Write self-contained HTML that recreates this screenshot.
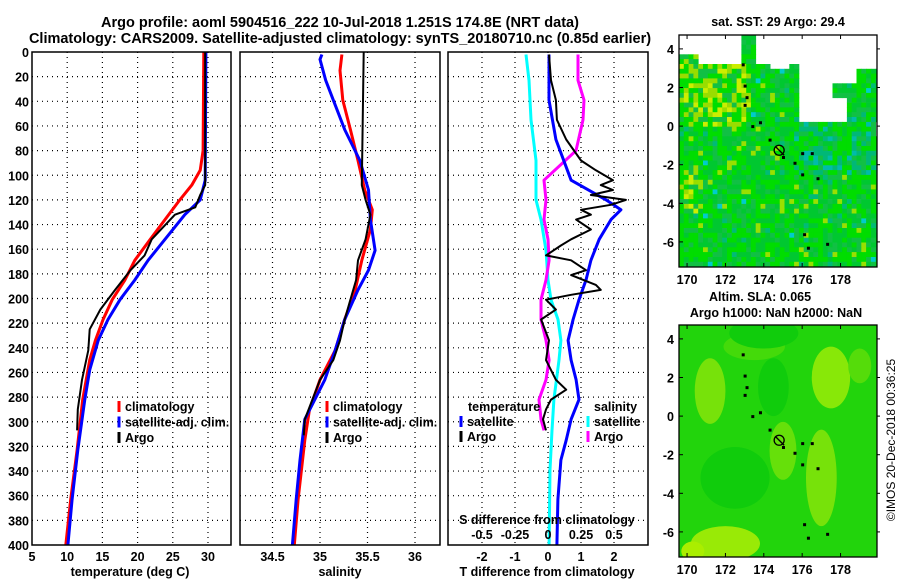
<!DOCTYPE html>
<html><head><meta charset="utf-8"><style>
body{margin:0;background:#fff;}
svg{display:block;font-family:"Liberation Sans",sans-serif;font-weight:bold;}
</style></head><body>
<svg id="s" width="900" height="580" viewBox="0 0 900 580" xmlns="http://www.w3.org/2000/svg">
<text x="340" y="27" font-size="14.5" text-anchor="middle">Argo profile: aoml 5904516_222 10-Jul-2018 1.251S 174.8E (NRT data)</text>
<text x="340" y="43" font-size="14.5" text-anchor="middle">Climatology: CARS2009. Satellite-adjusted climatology: synTS_20180710.nc (0.85d earlier)</text>
<g id="g"></g>
<text x="895" y="440" font-size="12" font-weight="normal" transform="rotate(-90 895 440)" text-anchor="middle">©IMOS 20-Dec-2018 00:36:25</text>
</svg>
<script>
// ---------- data ----------
const depthTicks=[0,20,40,60,80,100,120,140,160,180,200,220,240,260,280,300,320,340,360,380,400];
const tempTicks=[5,10,15,20,25,30];
const salTicks=[34.5,35,35.5,36];
const salTickLabels=["34.5","35","35.5","36"];
const tdiffTicks=[-2,-1,0,1,2];
const sdiffTicks=[-0.5,-0.25,0,0.25,0.5];
const sdiffTickLabels=["-0.5","-0.25","0","0.25","0.5"];
const lonTicks=[170,172,174,176,178];
const latTicks=[4,2,0,-2,-4,-6];

const argoTDepth=[0,100,108,116,126,132,152,165,177,193,209,225,242,266,290,307];
const argoT=[29.6,29.6,29.6,28.9,28.2,25.3,22,21,19,16.8,14.7,13.2,13,12.1,11.5,11.4];
const climTDepth=[0,80,96,108,120,136,152,169,185,201,217,234,250,282,323,363,400];
const climT=[29.4,29.3,28.9,27.7,26,23.9,21.8,19.6,18.2,16.4,15.1,14,13.2,12.2,11.4,10.5,9.8];
const satTDepth=[0,104,120,132,152,169,185,201,217,234,258,282,323,363,400];
const satT=[29.7,29.6,28.9,26.7,23.9,21.5,19.6,17.5,15.8,14.4,13.2,12.5,11.5,10.7,10.1];

const argoSDepth=[0,108,120,132,152,169,185,201,217,234,250,266,282,298,311];
const argoS=[35.46,35.44,35.48,35.53,35.48,35.40,35.38,35.32,35.26,35.21,35.14,35.0,34.92,34.84,34.83];
const climSDepth=[2,15,39,63,88,112,128,144,169,193,217,242,266,290,315,363,400];
const climS=[35.23,35.21,35.24,35.32,35.40,35.47,35.55,35.53,35.44,35.37,35.26,35.16,35.0,34.89,34.84,34.77,34.73];
const satSDepth=[2,6,23,39,63,88,112,136,161,177,193,217,242,266,298,331,363,400];
const satS=[35.02,35.0,35.06,35.14,35.26,35.42,35.51,35.53,35.58,35.51,35.40,35.26,35.16,35.05,34.84,34.79,34.75,34.71];

const argoTdDepth=[2,23,39,55,71,88,96,104,108,112,116,120,124,128,132,136,144,152,157,165,169,177,181,189,193,197,201,209,217,234,250,266,274,282,290,298,307];
const argoTd=[0.03,0.09,0.24,0.27,0.55,1.0,1.45,1.97,1.6,1.97,1.3,2.36,1.91,1.0,1.3,0.85,1.3,0.7,0.39,-0.06,0.7,1.15,0.7,1.45,1.6,0.7,-0.06,0.24,-0.21,0.03,-0.06,0.24,0.55,0.09,-0.06,-0.15,-0.06];
const satTdDepth=[2,39,71,104,120,128,136,152,169,185,201,217,234,250,266,282,298,315,331,363,400];
const satTd=[0.03,0.03,0.24,0.70,1.76,2.21,1.91,1.55,1.30,1.15,0.94,0.76,0.61,0.70,0.85,0.94,0.70,0.55,0.39,0.30,0.27];
const satSdDepth=[2,23,55,88,120,136,161,185,201,217,234,250,282,307,339,400];
const satSd=[-0.167,-0.144,-0.129,-0.091,-0.091,-0.053,-0.015,0,0.023,0.076,0.098,0.083,0.045,0.03,0.015,0.008];
const argoSdDepth=[2,23,39,55,80,104,120,136,152,169,185,201,217,234,250,266,282,298,307];
const argoSd=[0.227,0.227,0.273,0.265,0.212,-0.03,-0.015,-0.03,0,0.008,-0.015,-0.053,-0.053,-0.015,0.008,-0.015,-0.068,-0.053,-0.03];

const floatLon=174.8, floatLat=-1.251;
const trackLon=[172.9,173.0,173.1,173.0,173.4,173.8,174.3,175.0,176.0,176.5,175.6,176.0,176.8,176.1,176.3,177.3];
const trackLat=[3.2,2.1,1.5,1.1,0.0,0.2,-0.7,-1.6,-1.4,-1.4,-1.9,-2.5,-2.7,-5.6,-6.3,-6.1];

// ---------- helpers ----------
const NS="http://www.w3.org/2000/svg";
const G=document.getElementById('g');
function mk(tag,attrs,parent){const e=document.createElementNS(NS,tag);for(const k in attrs)e.setAttribute(k,attrs[k]);(parent||G).appendChild(e);return e;}
const yTop=52,yBot=545;
const yD=d=>yTop+(yBot-yTop)*d/400;

function panel(name,x0,x1,xmin,xmax){
  const sx=v=>x0+(x1-x0)*(v-xmin)/(xmax-xmin);
  const g=mk('g',{});
  
  
  return {sx,g,x0,x1};
}
function grid(p,xt){
  depthTicks.forEach(d=>{if(d>0&&d<400){const l=mk('line',{x1:p.x0,x2:p.x1,y1:yD(d),y2:yD(d),stroke:'#000','stroke-width':1.2,'stroke-dasharray':'1 4'},p.g);
    }});
  xt.forEach(v=>{const x=p.sx(v);if(x>p.x0+1&&x<p.x1-1){const l=mk('line',{x1:x,x2:x,y1:yTop,y2:yBot,stroke:'#000','stroke-width':1.2,'stroke-dasharray':'1 4'},p.g);
    }});
}
function frame(p){const r=mk('rect',{x:p.x0,y:yTop,width:p.x1-p.x0,height:yBot-yTop,fill:'none',stroke:'#000','stroke-width':1.5},p.g);
  }
function series(p,depths,vals,color,w,name,f){
  const pts=depths.map((d,i)=>(f?f(vals[i]):p.sx(vals[i])).toFixed(1)+','+yD(d).toFixed(1)).join(' ');
  const l=mk('polyline',{points:pts,fill:'none',stroke:color,'stroke-width':w,'stroke-linejoin':'round'},p.g);
  
}
function txt(s,x,y,size,anchor,name,parent,color){const t=mk('text',{x,y,'font-size':size,'text-anchor':anchor||'start',fill:color||'#000'},parent);t.textContent=s;
  return t;}
function legMark(x,y,color,parent){const l=mk('line',{x1:x,x2:x,y1:y-10,y2:y+1,stroke:color,'stroke-width':3},parent);
  }

// ---------- panel 1 ----------
const p1=panel('temperature-panel',32,231,5,33.27);
grid(p1,tempTicks);
series(p1,climTDepth,climT,'#f00',3,'climatology-temp-line');
series(p1,satTDepth,satT,'#00f',3,'satellite-temp-line');
series(p1,argoTDepth,argoT,'#000',2,'argo-temp-line');
frame(p1);
depthTicks.forEach(d=>txt(String(d),29,yD(d)+5,12.5,'end','depth-tick-label',p1.g));
tempTicks.forEach(v=>txt(String(v),p1.sx(v),561,12.5,'middle','temp-tick-label',p1.g));
txt('temperature (deg C)',130,576,12.5,'middle','temp-axis-title',p1.g);
[['climatology','#f00'],['satellite-adj. clim.','#00f'],['Argo','#000']].forEach((e,i)=>{legMark(119,411+i*15.5,e[1],p1.g);txt(e[0],125,411+i*15.5,12.5,'start','legend-entry',p1.g);});

// ---------- panel 2 ----------
const p2=panel('salinity-panel',240,440,34.158,36.263);
grid(p2,salTicks);
series(p2,climSDepth,climS,'#f00',3,'climatology-sal-line');
series(p2,satSDepth,satS,'#00f',3,'satellite-sal-line');
series(p2,argoSDepth,argoS,'#000',2,'argo-sal-line');
frame(p2);
salTicks.forEach((v,i)=>txt(salTickLabels[i],p2.sx(v),561,12.5,'middle','sal-tick-label',p2.g));
txt('salinity',340,576,12.5,'middle','sal-axis-title',p2.g);
[['climatology','#f00'],['satellite-adj. clim.','#00f'],['Argo','#000']].forEach((e,i)=>{legMark(327,411+i*15.5,e[1],p2.g);txt(e[0],333,411+i*15.5,12.5,'start','legend-entry',p2.g);});

// ---------- panel 3 ----------
const p3=panel('difference-panel',448,648,-3.03,3.03);
const sS=v=>p3.sx(v*4);
grid(p3,tdiffTicks);
series(p3,satSdDepth,satSd,'#0ff',3,'satellite-sdiff-line',sS);
series(p3,argoSdDepth,argoSd,'#f0f',3,'argo-sdiff-line',sS);
series(p3,satTdDepth,satTd,'#00f',3,'satellite-tdiff-line');
series(p3,argoTdDepth,argoTd,'#000',2,'argo-tdiff-line');
frame(p3);
tdiffTicks.forEach(v=>txt(String(v),p3.sx(v),561,12.5,'middle','tdiff-tick-label',p3.g));
sdiffTicks.forEach((v,i)=>txt(sdiffTickLabels[i],sS(v),539,12.5,'middle','sdiff-tick-label',p3.g));
txt('S difference from climatology',547,524,12.5,'middle','sdiff-axis-title',p3.g);
txt('T difference from climatology',547,576,12.5,'middle','tdiff-axis-title',p3.g);
txt('temperature',468,411,12.5,'start','legend-header-temp',p3.g);
legMark(461,426,'#00f',p3.g);txt('satellite',467,426,12.5,'start','legend-entry',p3.g);
legMark(461,441,'#000',p3.g);txt('Argo',467,441,12.5,'start','legend-entry',p3.g);
txt('salinity',594,411,12.5,'start','legend-header-sal',p3.g);
legMark(588,426,'#0ff',p3.g);txt('satellite',594,426,12.5,'start','legend-entry',p3.g);
legMark(588,441,'#f0f',p3.g);txt('Argo',594,441,12.5,'start','legend-entry',p3.g);

// ---------- maps ----------
function hash(a,b,c){let h=(a*374761393+b*668265263+c*2147483647)|0;h=(h^(h>>>13))*1274126177|0;return ((h^(h>>>16))>>>0)/4294967296;}
function map(name,y0,y1,sst){
  const x0=679,x1=877,lonMin=169.58,lonMax=179.9,latMax=4.72,latMin=-7.3;
  const sx=l=>x0+(x1-x0)*(l-lonMin)/(lonMax-lonMin);
  const sy=l=>y0+(y1-y0)*(latMax-l)/(latMax-latMin);
  const g=mk('g',{});
  const cp='cp'+name;const c=mk('clipPath',{id:cp},g);mk('rect',{x:x0,y:y0,width:x1-x0,height:y1-y0},c);
  const inner=mk('g',{'clip-path':'url(#'+cp+')'},g);
  if(sst){
    const st=0.25;
    for(let lat=latMax;lat>latMin-st;lat-=st){for(let lon=lonMin;lon<lonMax;lon+=st){
      const i=Math.round(lon*4),j=Math.round(lat*4);
      let white=false;
      if(lat>3.4&&!(lon<170.5&&lat<3.9)&&!(lon>172.6&&lon<173.4)) white=true;
      if(lat>2.3&&lat<=3.4&&((lon>174.2&&lon<175.3&&lat>3.1)||(lon>175.6&&lon<178.8))) white=true;
      if(lat>0.4&&lat<=2.3&&lon>175.8&&lon<178.2&&!(lon>177.4&&lat>1.6)) white=true;
      if(lat>-0.3&&lat<0.4&&lon>179.6) white=true;
      if(lat>3.1&&lon>178.8) white=true;
      if(white) continue;
      const r=hash(i,j,7);let col;
      const yellowish=(lon<173.2&&lat>0&&lat<3.3)||(lon<170.5&&lat<-2&&lat>-4.5);
      const tealish=(lon>175.5&&lat<0.8&&lat>-2.5);
      if(yellowish&&r<0.4) col=r<0.15?'#ccee00':'#99dd00';
      else if(tealish&&r<0.3) col=r<0.1?'#00bbaa':'#00b877';
      else if(r<0.05) col='#99e000';
      else if(r<0.08) col='#00bb77';
      else if(r<0.09) col='#00cccc';
      else if(r<0.4) col='#00c830';
      else if(r<0.8) col='#00dd00';
      else col='#11c044';
      mk('rect',{x:sx(lon).toFixed(1),y:sy(lat).toFixed(1),width:5.2,height:5.2,fill:col},inner);
    }}
  } else {
    mk('rect',{x:x0,y:y0,width:x1-x0,height:y1-y0,fill:'#22d40c'},inner);
    const blobs=[[171.2,1.3,0.8,1.7,'#77e20a'],[177.5,2.0,1.0,1.6,'#88e808'],[177.0,-3.2,0.8,2.5,'#77e20a'],[175.0,-1.8,0.7,1.5,'#66e00a'],[172.0,-6.6,1.8,0.9,'#99ea06'],[179.0,2.6,0.6,0.9,'#55dc0a'],[173.5,3.6,1.6,0.7,'#44da0a'],[170.3,-7.0,0.6,0.5,'#aaee00']];
    blobs.forEach(b=>mk('ellipse',{cx:sx(b[0]),cy:sy(b[1]),rx:b[2]*19.2,ry:b[3]*19.3,fill:b[4]},inner));
    const dk=[[174.0,4.3,1.8,0.8],[172.5,-3.2,1.8,1.6],[174.5,1.5,0.8,1.5]];
    dk.forEach(b=>mk('ellipse',{cx:sx(b[0]),cy:sy(b[1]),rx:b[2]*19.2,ry:b[3]*19.3,fill:'#10cc0c'},inner));
  }
  trackLon.forEach((l,i)=>{const d=mk('rect',{x:sx(l)-1,y:sy(trackLat[i])-1,width:3,height:3,fill:'#000'},inner);
    });
  const cx=sx(floatLon),cy=sy(floatLat);
  const m=mk('circle',{cx,cy,r:5,fill:'none',stroke:'#000','stroke-width':1.3},g);
  
  mk('line',{x1:cx-4,y1:cy-4,x2:cx+5,y2:cy+5,stroke:'#000','stroke-width':1.3},g);
  mk('rect',{x:x0,y:y0,width:x1-x0,height:y1-y0,fill:'none',stroke:'#000','stroke-width':1.3},g);
  lonTicks.forEach(l=>{txt(String(l),sx(l),y1+17,12.5,'middle','lon-tick-label',g);
    mk('line',{x1:sx(l),x2:sx(l),y1:y0,y2:y0+4,stroke:'#000'},g);mk('line',{x1:sx(l),x2:sx(l),y1:y1,y2:y1-4,stroke:'#000'},g);});
  latTicks.forEach(l=>{txt(String(l),x0-5,sy(l)+5,12.5,'end','lat-tick-label',g);
    mk('line',{x1:x0,x2:x0+4,y1:sy(l),y2:sy(l),stroke:'#000'},g);mk('line',{x1:x1,x2:x1+3,y1:sy(l),y2:sy(l),stroke:'#000'},g);});
  return g;
}
const m1=map('sst-map',35,267,true);
txt('sat. SST: 29 Argo: 29.4',778,26,12.5,'middle','sst-map-title',m1);
const m2=map('sla-map',325,557,false);
txt('Altim. SLA: 0.065',760,301,12.5,'middle','sla-map-title',m2);
txt('Argo h1000: NaN h2000: NaN',776,317,12.5,'middle','sla-map-subtitle',m2);
</script>
</body></html>
